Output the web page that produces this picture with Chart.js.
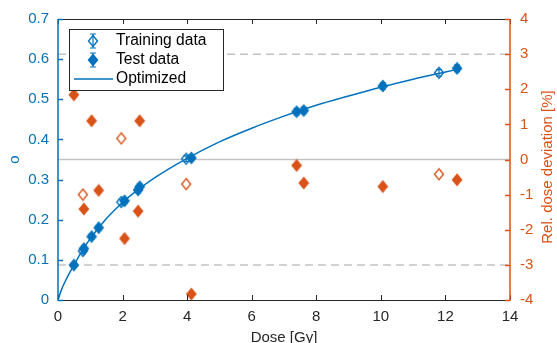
<!DOCTYPE html>
<html>
<head>
<meta charset="utf-8">
<script src="https://cdn.jsdelivr.net/npm/chart.js@4.4.0/dist/chart.umd.min.js"></script>
<style>
  html, body { margin: 0; padding: 0; background: #fff; }
  #wrap { width: 557px; height: 343px; }
</style>
</head>
<body>
<div id="wrap"><canvas id="doseChart" width="557" height="343"></canvas></div>
<script>
// training samples (open diamonds)
const trainDose = [0.77, 1.96, 3.97, 11.8];
const trainO = [0.122, 0.244, 0.352, 0.566];
const trainErr = [0.007, 0.007, 0.007, 0.008];
const trainDev = [-1.0, 0.6, -0.7, -0.42];

// test samples (filled diamonds)
const testDose = [0.49, 0.80, 1.04, 1.26, 2.06, 2.48, 2.53, 4.13, 7.39, 7.61, 10.06, 12.36];
const testO = [0.087, 0.128, 0.158, 0.180, 0.247, 0.274, 0.282, 0.354, 0.469, 0.472, 0.533, 0.577];
const testErr = [0.006, 0.006, 0.006, 0.006, 0.007, 0.007, 0.007, 0.007, 0.008, 0.008, 0.008, 0.008];
const testDev = [1.84, -1.41, 1.1, -0.88, -2.25, -1.47, 1.1, -3.83, -0.17, -0.67, -0.77, -0.58];

// optimized curve
const curveDose = [0, 0.1, 0.25, 0.5, 0.75, 1, 1.5, 2, 2.5, 3, 4, 5, 6, 7, 8, 9, 10, 11, 12, 12.4];
const curveO = [0, 0.024, 0.051, 0.088, 0.123, 0.153, 0.203, 0.243, 0.276, 0.305, 0.353, 0.394, 0.428, 0.458, 0.485, 0.508, 0.53, 0.55, 0.568, 0.575];

// reference lines on the right axis
const refLevels = [-3, 0, 3];

// tick labels
const xTicks = [0, 2, 4, 6, 8, 10, 12, 14];
const oTicks = [0, 0.1, 0.2, 0.3, 0.4, 0.5, 0.6, 0.7];
const devTicks = [-4, -3, -2, -1, 0, 1, 2, 3, 4];

const BLUE = '#0072BD';
const ORANGE = '#D95319';
const DARK = '#262626';
const FONT = "'Liberation Sans', Arial, sans-serif";

function pts(xs, ys) {
    return xs.map((x, i) => ({ x: x, y: ys[i] }));
}

// diamond marker as a small canvas (a bit taller than wide, like matlab)
function diamond(color, filled) {
    const c = document.createElement('canvas');
    c.width = 12;
    c.height = 14;
    const g = c.getContext('2d');
    g.beginPath();
    g.moveTo(6, 1.5);
    g.lineTo(10.5, 7);
    g.lineTo(6, 12.5);
    g.lineTo(1.5, 7);
    g.closePath();
    if (filled) {
        g.fillStyle = color;
        g.fill();
    }
    g.strokeStyle = color;
    g.lineWidth = 1.4;
    g.stroke();
    return c;
}

const blueOpen = diamond(BLUE, false);
const blueFull = diamond(BLUE, true);
const orangeOpen = diamond(ORANGE, false);
const orangeFull = diamond(ORANGE, true);

const datasets = [];

refLevels.forEach(lvl => {
    datasets.push({
        type: 'line',
        data: [{ x: 0, y: lvl }, { x: 14, y: lvl }],
        yAxisID: 'y2',
        borderColor: '#c3c3c3',
        borderWidth: 1.5,
        borderDash: lvl === 0 ? [] : [8, 5],
        pointRadius: 0,
        order: 10
    });
});

datasets.push({
    type: 'line',
    label: 'Optimized',
    data: pts(curveDose, curveO),
    yAxisID: 'y',
    borderColor: BLUE,
    borderWidth: 1.5,
    pointRadius: 0,
    cubicInterpolationMode: 'monotone',
    order: 5
});

datasets.push({
    label: 'Training data',
    data: pts(trainDose, trainO),
    yAxisID: 'y',
    pointStyle: blueOpen,
    order: 2
});
datasets.push({
    label: 'Test data',
    data: pts(testDose, testO),
    yAxisID: 'y',
    pointStyle: blueFull,
    order: 1
});
datasets.push({
    data: pts(trainDose, trainDev),
    yAxisID: 'y2',
    pointStyle: orangeOpen,
    order: 2
});
datasets.push({
    data: pts(testDose, testDev),
    yAxisID: 'y2',
    pointStyle: orangeFull,
    order: 1
});

// inward ticks, axis lines, error bars, legend box and right label
const decorations = {
    id: 'decorations',
    afterDatasetsDraw(chart) {
        const { ctx, chartArea: a, scales } = chart;
        const x = scales.x, y = scales.y, y2 = scales.y2;
        ctx.save();

        // error bars on the blue markers
        ctx.strokeStyle = BLUE;
        ctx.lineWidth = 1.2;
        [[trainDose, trainO, trainErr], [testDose, testO, testErr]].forEach(([ds, os, es]) => {
            ds.forEach((d, i) => {
                const px = x.getPixelForValue(d);
                const top = y.getPixelForValue(os[i] + es[i]);
                const bot = y.getPixelForValue(os[i] - es[i]);
                ctx.beginPath();
                ctx.moveTo(px, top); ctx.lineTo(px, bot);
                ctx.moveTo(px - 3, top); ctx.lineTo(px + 3, top);
                ctx.moveTo(px - 3, bot); ctx.lineTo(px + 3, bot);
                ctx.stroke();
            });
        });

        ctx.lineWidth = 1;
        // x ticks, bottom and top
        ctx.strokeStyle = DARK;
        xTicks.forEach(v => {
            const px = Math.round(x.getPixelForValue(v)) + 0.5;
            ctx.beginPath();
            ctx.moveTo(px, a.bottom); ctx.lineTo(px, a.bottom - 5);
            ctx.moveTo(px, a.top); ctx.lineTo(px, a.top + 5);
            ctx.stroke();
        });
        ctx.beginPath();
        ctx.moveTo(a.left, Math.round(a.top) + 0.5); ctx.lineTo(a.right, Math.round(a.top) + 0.5);
        ctx.moveTo(a.left, Math.round(a.bottom) + 0.5); ctx.lineTo(a.right, Math.round(a.bottom) + 0.5);
        ctx.stroke();

        // left axis
        ctx.strokeStyle = BLUE;
        ctx.lineWidth = 1.5;
        ctx.beginPath();
        ctx.moveTo(a.left, a.top); ctx.lineTo(a.left, a.bottom + 1);
        oTicks.forEach(v => {
            const py = Math.round(y.getPixelForValue(v)) + 0.5;
            ctx.moveTo(a.left, py); ctx.lineTo(a.left + 5, py);
        });
        ctx.stroke();

        // right axis
        ctx.strokeStyle = ORANGE;
        ctx.beginPath();
        ctx.moveTo(a.right, a.top); ctx.lineTo(a.right, a.bottom + 1);
        devTicks.forEach(v => {
            const py = Math.round(y2.getPixelForValue(v)) + 0.5;
            ctx.moveTo(a.right, py); ctx.lineTo(a.right - 5, py);
        });
        ctx.stroke();
        ctx.restore();
    },
    afterDraw(chart) {
        const { ctx } = chart;
        ctx.save();

        // right axis title, reading upwards
        ctx.fillStyle = ORANGE;
        ctx.font = '15px ' + FONT;
        ctx.textAlign = 'center';
        ctx.textBaseline = 'middle';
        ctx.translate(548, 167);
        ctx.rotate(-Math.PI / 2);
        ctx.fillText('Rel. dose deviation [%]', 0, 0);
        ctx.setTransform(1, 0, 0, 1, 0, 0);

        // legend box
        ctx.fillStyle = '#fff';
        ctx.fillRect(69, 29, 155, 62);
        ctx.strokeStyle = DARK;
        ctx.lineWidth = 1;
        ctx.strokeRect(69.5, 29.5, 154, 61);

        const rows = [[blueOpen, 41], [blueFull, 60]];
        ctx.strokeStyle = BLUE;
        ctx.lineWidth = 1.2;
        rows.forEach(([img, cy]) => {
            ctx.beginPath();
            ctx.moveTo(93, cy - 7); ctx.lineTo(93, cy + 7);
            ctx.moveTo(90, cy - 7); ctx.lineTo(96, cy - 7);
            ctx.moveTo(90, cy + 7); ctx.lineTo(96, cy + 7);
            ctx.stroke();
            ctx.drawImage(img, 93 - 6, cy - 7);
        });
        ctx.lineWidth = 1.5;
        ctx.beginPath();
        ctx.moveTo(74, 79); ctx.lineTo(113, 79);
        ctx.stroke();

        ctx.fillStyle = '#000';
        ctx.font = '15.6px ' + FONT;
        ctx.textAlign = 'left';
        ctx.textBaseline = 'middle';
        ctx.fillText('Training data', 116, 41);
        ctx.fillText('Test data', 116, 60);
        ctx.fillText('Optimized', 116, 79);
        ctx.restore();
    }
};

const tickFont = { family: FONT, size: 15 };

new Chart(document.getElementById('doseChart'), {
    type: 'scatter',
    data: { datasets: datasets },
    options: {
        responsive: false,
        animation: false,
        devicePixelRatio: 1,
        layout: { padding: { top: 19, left: 0, right: 0, bottom: 0 } },
        elements: { point: { radius: 6, hoverRadius: 6 } },
        plugins: {
            legend: { display: false },
            tooltip: { enabled: false }
        },
        scales: {
            x: {
                type: 'linear',
                min: 0,
                max: 14,
                afterBuildTicks: s => { s.ticks = xTicks.map(v => ({ value: v })); },
                afterFit: s => { s.height = 43; },
                ticks: { font: tickFont, color: DARK, padding: 8, maxRotation: 0 },
                grid: { display: false, drawTicks: false },
                border: { display: false },
                title: { display: true, text: 'Dose [Gy]', font: tickFont, color: DARK, padding: { top: 0, bottom: -4 } }
            },
            y: {
                position: 'left',
                min: 0,
                max: 0.7,
                afterBuildTicks: s => { s.ticks = oTicks.map(v => ({ value: v })); },
                afterFit: s => { s.width = 58; },
                ticks: { font: tickFont, color: BLUE, padding: 9, callback: v => String(+v.toFixed(1)) },
                grid: { display: false, drawTicks: false },
                border: { display: false },
                title: { display: true, text: 'o', font: tickFont, color: BLUE, padding: { top: 6, bottom: 0 } }
            },
            y2: {
                position: 'right',
                min: -4,
                max: 4,
                afterBuildTicks: s => { s.ticks = devTicks.map(v => ({ value: v })); },
                afterFit: s => { s.width = 47; },
                ticks: { font: tickFont, color: ORANGE, padding: 10 },
                grid: { display: false, drawTicks: false },
                border: { display: false }
            }
        }
    },
    plugins: [decorations]
});
</script>
</body>
</html>
